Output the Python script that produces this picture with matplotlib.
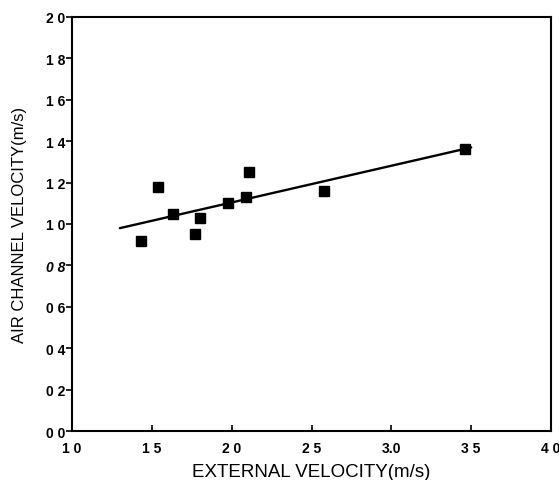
import matplotlib
matplotlib.use("Agg")
import matplotlib.pyplot as plt

# Data
ext_velocity = [1.43, 1.54, 1.63, 1.77, 1.80, 1.98, 2.09, 2.11, 2.58, 3.46]
air_velocity = [0.92, 1.18, 1.05, 0.95, 1.03, 1.10, 1.13, 1.25, 1.16, 1.36]
fit_x = [1.30, 3.50]
fit_y = [0.98, 1.37]

x_ticks = [1.0, 1.5, 2.0, 2.5, 3.0, 3.5, 4.0]
x_tick_labels = ["1 0", "1 5", "2 0", "2 5", "3.0", "3 5", "4 0"]
y_ticks = [0.0, 0.2, 0.4, 0.6, 0.8, 1.0, 1.2, 1.4, 1.6, 1.8, 2.0]
y_tick_labels = ["0 0", "0 2", "0 4", "0 6", "0 8", "1 0", "1 2", "1 4", "1 6", "1 8", "2 0"]

plt.rcParams['font.family'] = ['Liberation Sans', 'DejaVu Sans']

fig = plt.figure(figsize=(5.59, 4.81), dpi=100)
ax = fig.add_axes([72/559, 1 - 432/481, (551 - 72)/559, (432 - 18)/481])

ax.plot(fit_x, fit_y, color='black', lw=1.7, solid_capstyle='round')
ax.plot(ext_velocity, air_velocity, linestyle='none', marker='s',
        markersize=6.5, color='black')

ax.set_xlim(1.0, 4.0)
ax.set_ylim(0.0, 2.0)
ax.set_xticks(x_ticks)
ax.set_xticklabels(x_tick_labels, fontweight='bold', fontsize=10)
ax.set_yticks(y_ticks)
ax.set_yticklabels(y_tick_labels, fontweight='bold', fontsize=10)
ax.get_yticklabels()[4].set_style('italic')

ax.tick_params(axis='x', direction='in', length=4, width=1.2, pad=7)
ax.tick_params(axis='y', direction='out', length=4, width=1.2, pad=0.5)

for s in ax.spines.values():
    s.set_linewidth(1.5)

ax.set_xlabel("EXTERNAL VELOCITY(m/s)", fontsize=13.5, labelpad=6)
ax.set_ylabel("AIR CHANNEL VELOCITY(m/s)", fontsize=12, labelpad=14)

fig.savefig("out.png", dpi=100)
